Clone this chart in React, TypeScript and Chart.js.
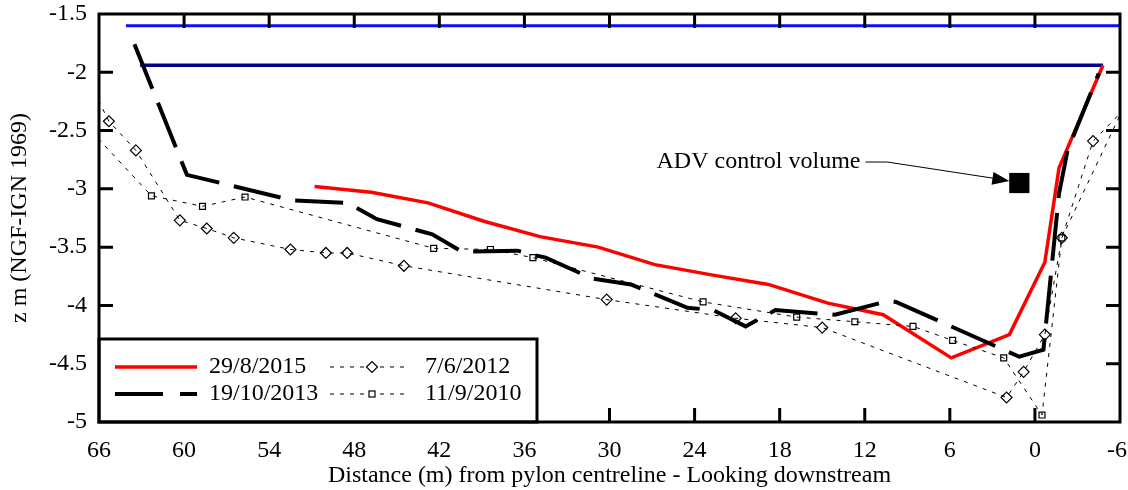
import React, { useEffect, useRef } from 'react';
import { Chart, registerables } from 'chart.js';

Chart.register(...registerables);

// ---- axis ticks ----
const xTicks = [66, 60, 54, 48, 42, 36, 30, 24, 18, 12, 6, 0, -6];
const yTicks = [-1.5, -2, -2.5, -3, -3.5, -4, -4.5, -5];

// ---- series labels ----
const label2015 = '29/8/2015';
const label2013 = '19/10/2013';
const label2012 = '7/6/2012';
const label2010 = '11/9/2010';

// ---- 29/8/2015 (red, solid) ----
const dist2015 = [50.8, 46.8, 42.8, 38.8, 34.9, 30.8, 26.8, 22.7, 18.8, 14.6, 10.7, 5.9, 1.8, -0.7, -1.7, -4.8];
const z2015 = [-2.98, -3.03, -3.12, -3.28, -3.41, -3.5, -3.65, -3.74, -3.82, -3.98, -4.08, -4.45, -4.25, -3.63, -2.82, -1.94];

// ---- 19/10/2013 (black, long dashes) ----
const dist2013 = [63.5, 59.8, 52.3, 48.5, 46.4, 42.5, 40.4, 36.5, 35.6, 34.5, 31.2, 28.5, 24.5, 22.7, 20.4, 18.3, 14.1, 10.3, 9.8, 1.1, -0.6, -1.7, -2.3, -4.5];
const z2013 = [-1.76, -2.88, -3.1, -3.12, -3.26, -3.39, -3.54, -3.53, -3.56, -3.59, -3.77, -3.82, -4.02, -4.04, -4.18, -4.04, -4.08, -3.96, -3.97, -4.44, -4.38, -3.04, -2.67, -2.01];

// ---- 7/6/2012 (thin dashes, diamonds) ----
const dist2012 = [67.0, 65.3, 63.4, 60.3, 58.4, 56.5, 52.5, 50.0, 48.5, 44.5, 30.2, 21.1, 15.0, 2.0, 0.8, -0.7, -1.9, -4.1, -7.0];
const z2012 = [-2.01, -2.42, -2.67, -3.27, -3.34, -3.42, -3.52, -3.55, -3.55, -3.66, -3.95, -4.11, -4.19, -4.79, -4.57, -4.25, -3.42, -2.59, -2.23];

// ---- 11/9/2010 (thin dashes, squares) ----
const dist2010 = [67.5, 62.3, 58.7, 55.7, 42.4, 38.4, 35.4, 23.4, 16.8, 12.7, 8.6, 5.8, 2.2, -0.5, -1.9, -7.0];
const z2010 = [-2.38, -3.06, -3.15, -3.07, -3.51, -3.52, -3.59, -3.97, -4.1, -4.14, -4.18, -4.3, -4.45, -4.94, -3.42, -2.11];

// ---- horizontal levels ----
const levelUpperDist = [64.1, -6];
const levelUpperZ = [-1.6, -1.6];
const levelLowerDist = [63.1, -4.8];
const levelLowerZ = [-1.94, -1.94];

// ---- ADV control volume ----
const advDist = [1.1];
const advZ = [-2.95];
const advLabel = 'ADV control volume';

const xTitle = 'Distance (m) from pylon centreline - Looking downstream';
const yTitle = 'z m (NGF-IGN 1969)';

const FONT = "'Liberation Serif', 'Times New Roman', serif";

const pts = (xs: number[], ys: number[]) => xs.map((x, i) => ({ x, y: ys[i] }));

const framePlugin = {
  id: 'frameLegend',
  afterDatasetsDraw(chart: any) {
    const { ctx, chartArea: a } = chart;
    const xs = chart.scales.x;
    const ys = chart.scales.y;
    ctx.save();

    // ADV annotation
    const sqX = xs.getPixelForValue(advDist[0]);
    const sqY = ys.getPixelForValue(advZ[0]);
    const textRight = xs.getPixelForValue(12.3);
    const textY = ys.getPixelForValue(-2.77);
    const elbowX = xs.getPixelForValue(10.4);
    ctx.font = `24px ${FONT}`;
    ctx.fillStyle = '#000';
    ctx.textAlign = 'right';
    ctx.textBaseline = 'middle';
    ctx.fillText(advLabel, textRight, textY);
    const tipX = sqX - 10;
    const tipY = sqY - 2;
    ctx.strokeStyle = '#000';
    ctx.lineWidth = 1;
    ctx.beginPath();
    ctx.moveTo(textRight + 5, textY);
    ctx.lineTo(elbowX, textY);
    ctx.lineTo(tipX - 14, tipY - 2.5);
    ctx.stroke();
    const ang = Math.atan2(tipY - textY, tipX - elbowX);
    const L = 17, W = 6.5;
    const bx = tipX - L * Math.cos(ang), by = tipY - L * Math.sin(ang);
    ctx.beginPath();
    ctx.moveTo(tipX, tipY);
    ctx.lineTo(bx - W * Math.sin(ang), by + W * Math.cos(ang));
    ctx.lineTo(bx + W * Math.sin(ang), by - W * Math.cos(ang));
    ctx.closePath();
    ctx.fill();

    // inward ticks, all four sides
    const tl = 14;
    ctx.lineWidth = 3;
    ctx.beginPath();
    xTicks.forEach((v) => {
      const px = xs.getPixelForValue(v);
      if (px <= a.left + 2 || px >= a.right - 2) return;
      ctx.moveTo(px, a.top);
      ctx.lineTo(px, a.top + tl);
      ctx.moveTo(px, a.bottom);
      ctx.lineTo(px, a.bottom - tl);
    });
    yTicks.forEach((v) => {
      const py = ys.getPixelForValue(v);
      if (py <= a.top + 2 || py >= a.bottom - 2) return;
      ctx.moveTo(a.left, py);
      ctx.lineTo(a.left + tl, py);
      ctx.moveTo(a.right, py);
      ctx.lineTo(a.right - tl, py);
    });
    ctx.stroke();

    // legend box
    const lx = a.left, ly = 339, lw = 438, lh = a.bottom - 339;
    ctx.fillStyle = '#fff';
    ctx.fillRect(lx, ly, lw, lh);
    ctx.strokeStyle = '#000';
    ctx.lineWidth = 3;
    ctx.strokeRect(lx, ly, lw, lh);

    const row1 = ly + 28;
    const row2 = ly + 55;
    ctx.font = `24px ${FONT}`;
    ctx.textAlign = 'left';
    ctx.fillStyle = '#000';

    // red
    ctx.strokeStyle = '#ff0000';
    ctx.lineWidth = 3.5;
    ctx.setLineDash([]);
    ctx.beginPath();
    ctx.moveTo(lx + 16, row1);
    ctx.lineTo(lx + 98, row1);
    ctx.stroke();
    ctx.fillText(label2015, lx + 110, row1);

    // black long dash
    ctx.strokeStyle = '#000';
    ctx.lineWidth = 4;
    ctx.setLineDash([48, 17]);
    ctx.beginPath();
    ctx.moveTo(lx + 16, row2);
    ctx.lineTo(lx + 98, row2);
    ctx.stroke();
    ctx.setLineDash([]);
    ctx.fillText(label2013, lx + 110, row2);

    // thin dashed with markers
    const sx0 = lx + 231, sx1 = lx + 311, mx = lx + 273;
    ctx.lineWidth = 1;
    ctx.setLineDash([4, 6]);
    ctx.beginPath();
    ctx.moveTo(sx0, row1);
    ctx.lineTo(sx1, row1);
    ctx.moveTo(sx0, row2);
    ctx.lineTo(sx1, row2);
    ctx.stroke();
    ctx.setLineDash([]);
    ctx.lineWidth = 1.2;
    ctx.fillStyle = '#fff';
    ctx.beginPath();
    ctx.moveTo(mx - 5.5, row1);
    ctx.lineTo(mx, row1 - 5.5);
    ctx.lineTo(mx + 5.5, row1);
    ctx.lineTo(mx, row1 + 5.5);
    ctx.closePath();
    ctx.fill();
    ctx.stroke();
    ctx.fillRect(mx - 3, row2 - 3, 6, 6);
    ctx.strokeRect(mx - 3, row2 - 3, 6, 6);
    ctx.fillStyle = '#000';
    ctx.fillText(label2012, lx + 326, row1);
    ctx.fillText(label2010, lx + 326, row2);

    // frame
    ctx.lineWidth = 3;
    ctx.strokeStyle = '#000';
    ctx.strokeRect(a.left, a.top, a.right - a.left, a.bottom - a.top);
    ctx.restore();
  },
};

export default function App() {
  const ref = useRef<HTMLCanvasElement | null>(null);

  useEffect(() => {
    document.body.style.margin = '0';
    const canvas = ref.current;
    if (!canvas) return;
    Chart.defaults.color = '#000';
    Chart.defaults.font.family = FONT;

    const chart = new Chart(canvas, {
      type: 'scatter',
      data: {
        datasets: [
          {
            label: 'ADV',
            data: pts(advDist, advZ),
            showLine: false,
            pointStyle: 'rect',
            pointRadius: 14.3,
            pointBackgroundColor: '#000',
            pointBorderWidth: 0,
          },
          {
            label: label2012,
            data: pts(dist2012, z2012),
            showLine: true,
            borderColor: '#000',
            borderWidth: 1,
            borderDash: [4, 6],
            pointStyle: 'rectRot',
            pointRadius: 5.5,
            pointBorderColor: '#000',
            pointBackgroundColor: 'rgba(0,0,0,0)',
            pointBorderWidth: 1.2,
          },
          {
            label: label2010,
            data: pts(dist2010, z2010),
            showLine: true,
            borderColor: '#000',
            borderWidth: 1,
            borderDash: [4, 6],
            pointStyle: 'rect',
            pointRadius: 4.2,
            pointBorderColor: '#000',
            pointBackgroundColor: 'rgba(0,0,0,0)',
            pointBorderWidth: 1.2,
          },
          {
            label: label2013,
            data: pts(dist2013, z2013),
            showLine: true,
            borderColor: '#000',
            borderWidth: 4,
            borderDash: [48, 15],
            pointRadius: 0,
          },
          {
            label: label2015,
            data: pts(dist2015, z2015),
            showLine: true,
            borderColor: '#ff0000',
            borderWidth: 3.5,
            pointRadius: 0,
          },
          {
            label: 'upper level',
            data: pts(levelUpperDist, levelUpperZ),
            showLine: true,
            borderColor: '#0c0cff',
            borderWidth: 3,
            pointRadius: 0,
          },
          {
            label: 'lower level',
            data: pts(levelLowerDist, levelLowerZ),
            showLine: true,
            borderColor: '#00008b',
            borderWidth: 3.5,
            pointRadius: 0,
          },
        ],
      },
      options: {
        animation: false,
        responsive: false,
        events: [],
        layout: { autoPadding: false, padding: { left: 0, right: 8, top: 14, bottom: 0 } },
        plugins: { legend: { display: false }, tooltip: { enabled: false } },
        elements: { line: { tension: 0 } },
        scales: {
          x: {
            type: 'linear',
            reverse: true,
            min: -6,
            max: 66,
            grid: { display: false, drawTicks: false },
            border: { display: false },
            afterBuildTicks: (s: any) => {
              s.ticks = xTicks.map((v) => ({ value: v }));
            },
            afterFit: (s: any) => {
              s.height = 68;
              s.paddingLeft = 0;
              s.paddingRight = 0;
            },
            ticks: {
              padding: 14,
              maxRotation: 0,
              autoSkip: false,
              font: { size: 24, family: FONT },
              // last label nudged left (trailing no-break space) so it stays inside the canvas
              callback: (v: any) => (v === xTicks[xTicks.length - 1] ? String(v) + '\u00a0' : String(v)),
            },
            title: {
              display: true,
              text: xTitle,
              font: { size: 24, family: FONT },
              padding: { top: 0, bottom: 0 },
            },
          },
          y: {
            type: 'linear',
            min: -5,
            max: -1.5,
            grid: { display: false, drawTicks: false },
            border: { display: false },
            afterBuildTicks: (s: any) => {
              s.ticks = yTicks.map((v) => ({ value: v }));
            },
            afterFit: (s: any) => {
              s.width = 99;
              s.paddingTop = 0;
              s.paddingBottom = 0;
            },
            ticks: {
              padding: 12,
              autoSkip: false,
              font: { size: 24, family: FONT },
              callback: (v: any) => String(v),
            },
            title: {
              display: true,
              text: yTitle,
              font: { size: 24, family: FONT },
              padding: { top: 5, bottom: 0 },
            },
          },
        },
      },
      plugins: [framePlugin],
    });
    return () => chart.destroy();
  }, []);

  return <canvas ref={ref} width={1128} height={490} style={{ display: 'block', width: 1128, height: 490 }} />;
}
